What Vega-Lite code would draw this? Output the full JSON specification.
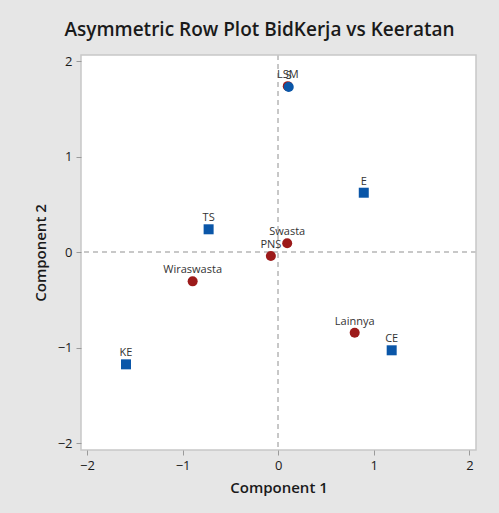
{
  "$schema": "https://vega.github.io/schema/vega-lite/v6.json",
  "autosize": {"type": "none"},
  "width": 395,
  "height": 395,
  "padding": {"left": 81, "top": 55, "right": 23, "bottom": 63},
  "background": "#e6e6e6",
  "title": {
    "text": "Asymmetric Row Plot BidKerja vs Keeratan",
    "font": "Open Sans",
    "fontSize": 19,
    "fontWeight": 600,
    "color": "#1a1a1a",
    "anchor": "middle",
    "dx": -19,
    "offset": 14
  },
  "config": {
    "view": {"stroke": "#c8c8c8", "strokeWidth": 1.5, "fill": "white"},
    "axis": {
      "grid": false,
      "domain": false,
      "tickColor": "#9a9a9a",
      "tickSize": 5,
      "labelFont": "Open Sans",
      "labelFontSize": 13,
      "labelColor": "#1a1a1a",
      "titleFont": "Open Sans",
      "titleFontSize": 15,
      "titleFontWeight": 600,
      "titleColor": "#1a1a1a"
    }
  },
  "data": {
    "values": [
      {"label": "LSM", "c1": 0.10, "c2": 1.74, "type": "row"},
      {"label": "S", "c1": 0.11, "c2": 1.73, "type": "col"},
      {"label": "Swasta", "c1": 0.094, "c2": 0.094, "type": "row"},
      {"label": "PNS", "c1": -0.077, "c2": -0.039, "type": "row"},
      {"label": "Wiraswasta", "c1": -0.895, "c2": -0.304, "type": "row"},
      {"label": "Lainnya", "c1": 0.80, "c2": -0.842, "type": "row"},
      {"label": "E", "c1": 0.895, "c2": 0.624, "type": "colsq"},
      {"label": "TS", "c1": -0.728, "c2": 0.241, "type": "colsq"},
      {"label": "CE", "c1": 1.187, "c2": -1.026, "type": "colsq"},
      {"label": "KE", "c1": -1.592, "c2": -1.173, "type": "colsq"}
    ]
  },
  "layer": [
    {
      "mark": {"type": "rule", "color": "#c8c8c8", "strokeDash": [5, 4], "strokeWidth": 1.5},
      "encoding": {"x": {"datum": 0, "type": "quantitative"}}
    },
    {
      "mark": {"type": "rule", "color": "#c8c8c8", "strokeDash": [5, 4], "strokeWidth": 1.5},
      "encoding": {"y": {"datum": 0, "type": "quantitative"}}
    },
    {
      "mark": {"type": "point", "filled": true, "opacity": 1},
      "encoding": {
        "x": {
          "field": "c1", "type": "quantitative",
          "scale": {"domain": [-2.063, 2.069], "nice": false, "zero": false},
          "axis": {"values": [-2, -1, 0, 1, 2], "format": "d", "title": "Component 1", "titlePadding": 8, "labelPadding": 4}
        },
        "y": {
          "field": "c2", "type": "quantitative",
          "scale": {"domain": [-2.07, 2.066], "nice": false, "zero": false},
          "axis": {"values": [-2, -1, 0, 1, 2], "format": "d", "title": "Component 2", "titlePadding": 9, "labelPadding": 4}
        },
        "shape": {
          "field": "type", "type": "nominal",
          "scale": {"domain": ["row", "col", "colsq"], "range": ["circle", "circle", "square"]},
          "legend": null
        },
        "color": {
          "field": "type", "type": "nominal",
          "scale": {"domain": ["row", "col", "colsq"], "range": ["#9c1a1a", "#0a56a8", "#0a56a8"]},
          "legend": null
        },
        "size": {
          "field": "type", "type": "nominal",
          "scale": {"domain": ["row", "col", "colsq"], "range": [100, 100, 60]},
          "legend": null
        }
      }
    },
    {
      "mark": {"type": "text", "font": "Open Sans", "fontSize": 11, "color": "#333333", "dy": -11, "baseline": "middle"},
      "encoding": {
        "x": {"field": "c1", "type": "quantitative"},
        "y": {"field": "c2", "type": "quantitative"},
        "text": {"field": "label"}
      }
    }
  ]
}
